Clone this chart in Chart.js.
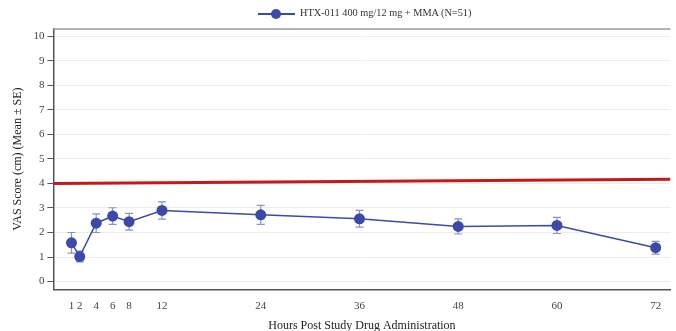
<!DOCTYPE html>
<html>
<head>
<meta charset="utf-8">
<script src="https://cdn.jsdelivr.net/npm/chart.js@4.4.1/dist/chart.umd.min.js"></script>
<style>
body { margin:0; background:#fff; }
#wrap { position:relative; width:676px; height:331px; }
#legend { position:absolute; top:7px; left:258px; white-space:nowrap; font-family:'Liberation Serif',serif; font-size:10.3px; color:#333; }
#legend .sym { display:inline-block; position:relative; width:37px; height:12px; vertical-align:middle; margin-right:5px; }
#legend .sym .ln { position:absolute; left:0; right:0; top:5px; height:2px; background:#3b4aa8; }
#legend .sym .dt { position:absolute; left:13px; top:1px; width:10px; height:10px; border-radius:50%; background:#3b4aa8; }
</style>
</head>
<body>
<div id="wrap">
<canvas id="c" width="676" height="331"></canvas>
<div id="legend"><span class="sym"><span class="ln"></span><span class="dt"></span></span>HTX-011 400 mg/12 mg + MMA (N=51)</div>
</div>
<script>
var hours = [1, 2, 4, 6, 8, 12, 24, 36, 48, 60, 72];
var meanVas = [1.58, 1.02, 2.38, 2.67, 2.44, 2.90, 2.72, 2.56, 2.25, 2.29, 1.38];
var seVas = [0.42, 0.22, 0.38, 0.34, 0.34, 0.35, 0.39, 0.34, 0.31, 0.33, 0.26];
var refX = [-1.2, 73.8];
var refY = [4.0, 4.17];
var yTicks = [0, 1, 2, 3, 4, 5, 6, 7, 8, 9, 10];

var font = "'Liberation Serif', 'Times New Roman', serif";

var pts = [];
for (var i = 0; i < hours.length; i++) pts.push({x: hours[i], y: meanVas[i]});
var refPts = [{x: refX[0], y: refY[0]}, {x: refX[1], y: refY[1]}];

var errorBars = {
	id: 'errorBars',
	beforeDatasetsDraw: function(ch) {
		var ctx = ch.ctx, xs = ch.scales.x, ys = ch.scales.y;
		ctx.save();
		ctx.strokeStyle = '#8a92c4';
		ctx.lineWidth = 1.2;
		for (var i = 0; i < hours.length; i++) {
			var px = xs.getPixelForValue(hours[i]);
			var top = ys.getPixelForValue(meanVas[i] + seVas[i]);
			var bot = ys.getPixelForValue(meanVas[i] - seVas[i]);
			ctx.beginPath();
			ctx.moveTo(px, top); ctx.lineTo(px, bot);
			ctx.moveTo(px - 4, top); ctx.lineTo(px + 4, top);
			ctx.moveTo(px - 4, bot); ctx.lineTo(px + 4, bot);
			ctx.stroke();
		}
		ctx.restore();
	},
	afterDraw: function(ch) {
		var ctx = ch.ctx, a = ch.chartArea;
		ctx.save();
		ctx.strokeStyle = '#9a9a9a';
		ctx.lineWidth = 1.5;
		ctx.beginPath();
		ctx.moveTo(a.left, a.top); ctx.lineTo(a.right, a.top);
		ctx.stroke();
		ctx.restore();
	}
};

var chart = new Chart(document.getElementById('c'), {
	type: 'line',
	data: {
		datasets: [
			{
				label: 'ref',
				data: refPts,
				borderColor: '#c41a1a',
				borderWidth: 3,
				pointRadius: 0,
				fill: false
			},
			{
				label: 'HTX-011 400 mg/12 mg + MMA (N=51)',
				data: pts,
				borderColor: '#3b4aa8',
				backgroundColor: '#3b4aa8',
				borderWidth: 1.5,
				pointRadius: 5.5,
				pointBorderWidth: 0,
				fill: false
			}
		]
	},
	options: {
		responsive: false,
		animation: false,
		layout: { padding: { top: 29, right: 2, left: 11, bottom: -2 } },
		plugins: {
			legend: { display: false },
			tooltip: { enabled: false }
		},
		scales: {
			x: {
				type: 'linear',
				min: refX[0],
				max: refX[1],
				afterBuildTicks: function(s) { s.ticks = hours.map(function(h) { return {value: h}; }); },
				grid: { display: false, drawOnChartArea: false, drawTicks: true, tickLength: 6, tickColor: '#555' },
				border: { display: true, color: '#555', width: 1.5 },
				ticks: { color: '#444', font: { family: font, size: 11 }, padding: 4, maxRotation: 0, autoSkip: false },
				title: { display: true, text: 'Hours Post Study Drug Administration', color: '#222', font: { family: font, size: 12 }, padding: { top: 2, bottom: 0 } }
			},
			y: {
				min: -0.32,
				max: 10.3,
				afterBuildTicks: function(s) { s.ticks = yTicks.map(function(v) { return {value: v}; }); },
				grid: { color: '#ececec', lineWidth: 1, drawTicks: true, tickLength: 6, tickColor: '#555' },
				border: { display: true, color: '#555', width: 1.5 },
				ticks: { color: '#444', font: { family: font, size: 11 }, padding: 3 },
				title: { display: true, text: 'VAS Score (cm) (Mean \u00b1 SE)', color: '#222', font: { family: font, size: 12 }, padding: { top: 0, bottom: 5 } }
			}
		}
	},
	plugins: [errorBars]
});
</script>
</body>
</html>
